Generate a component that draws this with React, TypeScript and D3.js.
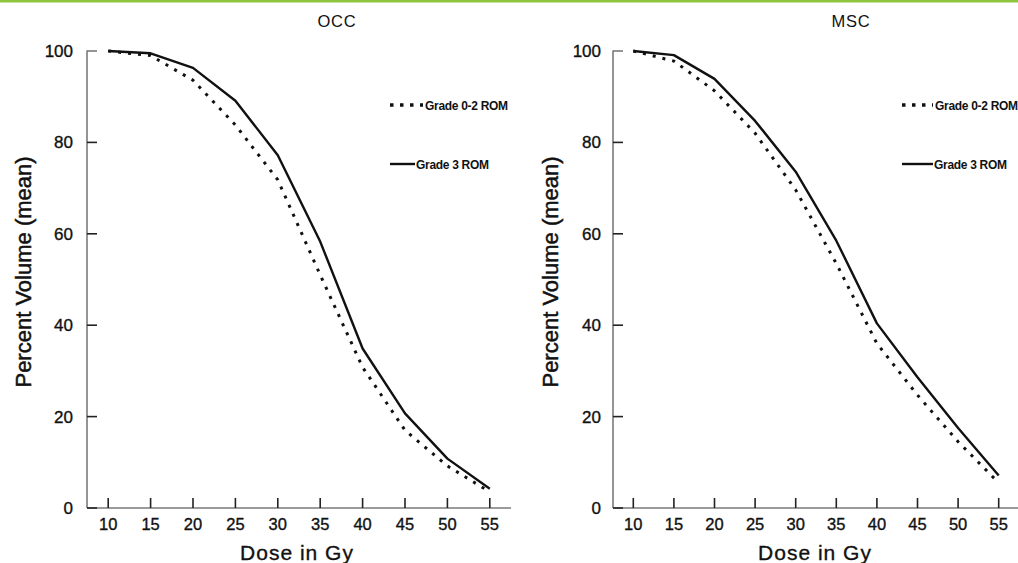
import React from "react";
import * as d3 from "d3";

const doses = [10, 15, 20, 25, 30, 35, 40, 45, 50, 55];
const occGrade02 = [100, 99, 93.6, 83.8, 71.8, 51, 30.8, 17, 9.2, 3.5];
const occGrade3 = [100, 99.5, 96.3, 89.1, 77.2, 58.3, 34.9, 20.7, 10.8, 4.2];
const mscGrade02 = [100, 97.8, 91.3, 82, 69.6, 53.5, 36, 24.7, 14.5, 5.5];
const mscGrade3 = [100, 99.1, 93.9, 84.7, 73.6, 58.5, 40.4, 28.6, 17.5, 7.1];
const yTicks = [0, 20, 40, 60, 80, 100];
const panelTitles = ["OCC", "MSC"];
const legendLabels = ["Grade 0-2 ROM", "Grade 3 ROM"];

const FONT = "'Liberation Sans', Arial, Helvetica, sans-serif";

type PanelProps = {
  title: string;
  low: number[];
  high: number[];
  x0: number;
  x1: number;
  labelGap: number;
  yTitleX: number;
  titleX: number;
  xTitleX: number;
  legX: number;
  legDotEnd: number;
  legSolidEnd: number;
};

function Panel(p: PanelProps) {
  const yTop = 51;
  const yBot = 508;
  const x = d3.scaleLinear().domain([7.5, 57.5]).range([p.x0, p.x1]);
  const y = d3.scaleLinear().domain([0, 100]).range([yBot, yTop]);
  const line = d3
    .line<number>()
    .x((_, i) => x(doses[i]))
    .y((d) => y(d));
  const heavy = { stroke: "#111", strokeWidth: 0.35 };
  return (
    <g>
      <text x={p.titleX} y={27} textAnchor="middle" fontSize={16.5} fontFamily={FONT} letterSpacing={0.8} fill="#111">
        {p.title}
      </text>
      {/* axes */}
      <line x1={p.x0} x2={p.x0} y1={yTop - 0.5} y2={yBot} stroke="#7a7a7a" strokeWidth={1.6} />
      <line x1={p.x0} x2={p.x1} y1={yBot} y2={yBot} stroke="#7a7a7a" strokeWidth={1.6} />
      {yTicks.map((t) => (
        <g key={"y" + t}>
          <line x1={p.x0} x2={p.x0 + 10} y1={y(t)} y2={y(t)} stroke={t === 100 ? "#7a7a7a" : "#222"} strokeWidth={1.6} />
          <text x={p.x0 - p.labelGap} y={y(t) + 6} textAnchor="end" fontSize={17} fontFamily={FONT} fill="#111" {...heavy}>
            {t}
          </text>
        </g>
      ))}
      {doses.map((d) => (
        <g key={"x" + d}>
          <line x1={x(d)} x2={x(d)} y1={yBot} y2={yBot - 10} stroke="#222" strokeWidth={1.6} />
          <text x={x(d)} y={530} textAnchor="middle" fontSize={16.5} fontFamily={FONT} fill="#111" {...heavy}>
            {d}
          </text>
        </g>
      ))}
      <text
        transform={`translate(${p.yTitleX},272) rotate(-90)`}
        textAnchor="middle"
        fontSize={22}
        fontFamily={FONT}
        fill="#111"
        stroke="#111"
        strokeWidth={0.5}
      >
        Percent Volume (mean)
      </text>
      <text x={p.xTitleX} y={560} textAnchor="middle" fontSize={21} letterSpacing={1} fontFamily={FONT} fill="#111" {...heavy}>
        Dose in Gy
      </text>
      {/* series */}
      <path d={line(p.low) || ""} fill="none" stroke="#111" strokeWidth={3} strokeDasharray="3 7" />
      <path d={line(p.high) || ""} fill="none" stroke="#111" strokeWidth={2.4} strokeLinejoin="round" />
      {/* legend */}
      <line x1={p.legX} x2={p.legDotEnd} y1={105} y2={105} stroke="#111" strokeWidth={3.5} strokeDasharray="3.5 6.5" />
      <text x={p.legDotEnd + 2} y={110} fontSize={12} fontWeight="bold" letterSpacing={-0.3} fontFamily={FONT} fill="#111">
        {legendLabels[0]}
      </text>
      <line x1={p.legX} x2={p.legSolidEnd} y1={164} y2={164} stroke="#111" strokeWidth={2.4} />
      <text x={p.legSolidEnd + 1} y={168.5} fontSize={12} fontWeight="bold" letterSpacing={-0.3} fontFamily={FONT} fill="#111">
        {legendLabels[1]}
      </text>
    </g>
  );
}

export default function App() {
  return (
    <svg
      width={1018}
      height={563}
      viewBox="0 0 1018 563"
      style={{ position: "absolute", left: 0, top: 0, display: "block", background: "#fff" }}
    >
      <rect x={0} y={0} width={1018} height={563} fill="#fff" />
      <rect x={0} y={0} width={1018} height={2.5} fill="#8dc63f" />
      <Panel
        title={panelTitles[0]}
        low={occGrade02}
        high={occGrade3}
        x0={87}
        x1={511}
        labelGap={14}
        yTitleX={31}
        titleX={337}
        xTitleX={297}
        legX={390}
        legDotEnd={423}
        legSolidEnd={415}
      />
      <Panel
        title={panelTitles[1]}
        low={mscGrade02}
        high={mscGrade3}
        x0={613}
        x1={1019}
        labelGap={12}
        yTitleX={558}
        titleX={851}
        xTitleX={815}
        legX={902}
        legDotEnd={933}
        legSolidEnd={933}
      />
    </svg>
  );
}
